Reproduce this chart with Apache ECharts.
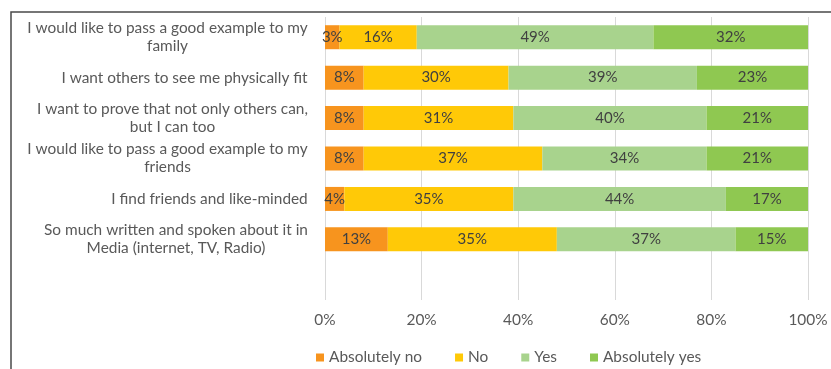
<!DOCTYPE html>
<html>
<head>
<meta charset="utf-8">
<script src="https://cdn.jsdelivr.net/npm/echarts@6/dist/echarts.min.js"></script>
<style>
  html, body { margin: 0; padding: 0; background: #fff; }
  #chart { width: 831px; height: 369px; }
</style>
</head>
<body>
<div id="chart"></div>
<script>
// reasons, top to bottom
const categories = [
  'I would like to pass a good example to my\nfamily',
  'I want others to see me physically fit',
  'I want to prove that not only others can,\nbut I can too',
  'I would like to pass a good example to my\nfriends',
  'I find friends and like-minded',
  'So much written and spoken about it in\nMedia (internet, TV, Radio)'
]
const absolutelyNo = [3, 8, 8, 8, 4, 13]
const no = [16, 30, 31, 37, 35, 35]
const yes = [49, 39, 40, 34, 44, 37]
const absolutelyYes = [32, 23, 21, 21, 17, 15]
const seriesNames = ['Absolutely no', 'No', 'Yes', 'Absolutely yes']
const tickValues = [0, 20, 40, 60, 80, 100]

const colors = ['#F7941E', '#FFC907', '#A8D38D', '#8FC851']
const font = 'Lato'
const labelSize = 15.4

// lines of a label are centred on each other, the block sits right
const ctx = document.createElement('canvas').getContext('2d')
ctx.font = labelSize + 'px ' + font
const rich = {}
categories.forEach((c, i) => {
  const w = Math.max(...c.split('\n').map(l => ctx.measureText(l).width))
  rich['c' + i] = { width: Math.ceil(w), align: 'center', fontFamily: font, fontSize: labelSize, color: '#595959', lineHeight: 18 }
})

const chart = echarts.init(document.getElementById('chart'))

function makeSeries(name, data, i) {
  return {
    name: name,
    type: 'bar',
    stack: 'total',
    barWidth: 24,
    data: data,
    itemStyle: { color: colors[i] },
    label: {
      show: true,
      position: 'inside',
      formatter: '{c}%',
      color: '#404040',
      fontFamily: font,
      fontSize: 15
    },
    emphasis: { disabled: true }
  }
}

chart.setOption({
  animation: false,
  textStyle: { fontFamily: font },
  graphic: [{
    type: 'rect',
    shape: { x: 11, y: 12, width: 900, height: 500 },
    style: { fill: 'none', stroke: '#4a4a4a', lineWidth: 1.5 },
    silent: true
  }],
  legend: {
    left: 311,
    top: 345,
    icon: 'rect',
    itemWidth: 8,
    itemHeight: 8,
    itemGap: 33,
    data: seriesNames,
    textStyle: { color: '#595959', fontFamily: font, fontSize: 15.4 }
  },
  grid: { left: 325, right: 23, top: 17, bottom: 69 },
  xAxis: {
    type: 'value',
    min: 0,
    max: 100,
    interval: 20,
    axisLine: { show: false },
    axisTick: { show: false },
    axisLabel: {
      formatter: v => tickValues.includes(v) ? v + '%' : '',
      color: '#595959',
      fontFamily: font,
      fontSize: 15.4,
      margin: 13
    },
    splitLine: { lineStyle: { color: '#D9D9D9', width: 1 } }
  },
  yAxis: {
    type: 'category',
    inverse: true,
    // empty slot at the bottom, as in the source chart
    data: categories.concat(['']),
    axisLine: { show: false },
    axisTick: { show: false },
    axisLabel: {
      margin: 17,
      formatter: (v, i) => v ? v.split('\n').map(l => '{c' + i + '|' + l + '}').join('\n') : '',
      rich: rich
    }
  },
  series: [
    makeSeries(seriesNames[0], absolutelyNo, 0),
    makeSeries(seriesNames[1], no, 1),
    makeSeries(seriesNames[2], yes, 2),
    makeSeries(seriesNames[3], absolutelyYes, 3)
  ]
})
</script>
</body>
</html>
